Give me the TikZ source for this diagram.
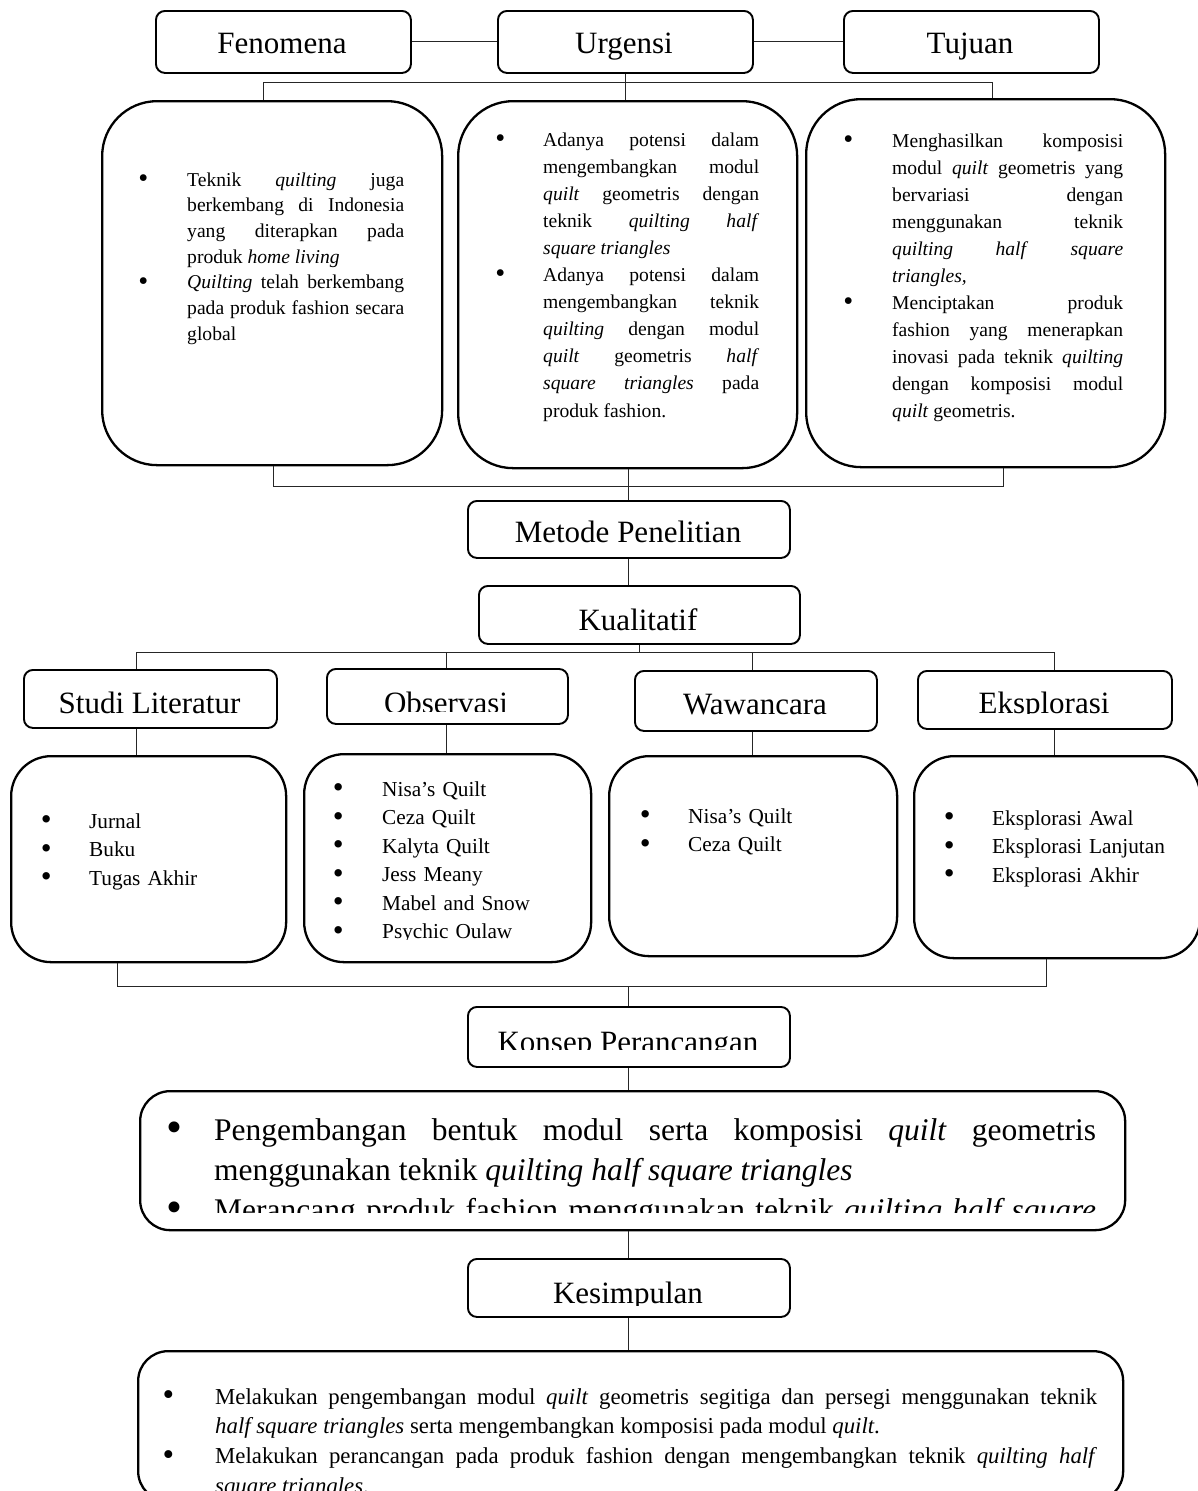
\documentclass[tikz,border=0pt]{standalone}
\usepackage{fontspec}
\setmainfont{Liberation Serif}
\usetikzlibrary{positioning}
\tolerance=10000
\hbadness=10000
\hyphenpenalty=10000
\tikzset{
  labelbox/.style={draw, line width=1.9pt, rounded corners=9pt, anchor=north west, inner sep=0pt},
  listbox/.style={draw, line width=2.3pt, anchor=north west, inner sep=0pt},
  conn/.style={line width=1pt, black!85},
  lbl/.style={anchor=base, inner sep=0pt, font=\fontsize{31pt}{36pt}\selectfont},
  txt/.style={anchor=base west, inner sep=0pt, align=justify},
  lst/.style={anchor=base west, inner sep=0pt, align=left, text width=240pt,
    font=\fontsize{21.3pt}{28.5pt}\selectfont},
}
\newcommand{\blt}[1][44pt]{\noindent\hangindent=#1\hangafter=1\makebox[#1][l]{\hspace*{-0.25em}\raisebox{-0.07em}{\scalebox{1.45}{\textbullet}}}\ignorespaces}

\begin{document}
\begin{tikzpicture}[x=1pt,y=-1pt]
  \useasboundingbox (0,0) rectangle (1198,1491);
  \clip (0,0) rectangle (1198,1491);

  % top row
  \node[labelbox, minimum width=255pt, minimum height=62pt] (fen) at (155,10) {};
  \node[labelbox, minimum width=255pt, minimum height=62pt] (urg) at (497,10) {};
  \node[labelbox, minimum width=255pt, minimum height=62pt] (tuj) at (843,10) {};
  \node[lbl] (fenT) at (282,53) {Fenomena};
  \node[lbl] (urgT) at (624,53) {Urgensi};
  \node[lbl] (tujT) at (970,53) {Tujuan};
  \draw[conn] (fen.east) -- (urg.west);
  \draw[conn] (urg.east) -- (tuj.west);

  \node[listbox, rounded corners=55pt, minimum width=340pt, minimum height=364pt] (fenC) at (101,100) {};
  \node[listbox, rounded corners=55pt, minimum width=339pt, minimum height=367pt] (urgC) at (457,100) {};
  \node[listbox, rounded corners=55pt, minimum width=359pt, minimum height=368pt] (tujC) at (805,98) {};

  \node[txt, text width=261pt, font=\fontsize{19.6pt}{25.7pt}\selectfont] (fenL) at (143,186) {%
    \blt Teknik \textit{quilting} juga\linebreak berkembang di Indonesia\linebreak yang diterapkan pada\linebreak produk \textit{home living}\par
    \blt \textit{Quilting} telah berkembang\linebreak pada produk fashion secara\linebreak global\par};
  \node[txt, text width=259pt, font=\fontsize{19.6pt}{27.1pt}\selectfont] (urgL) at (500,146) {%
    \blt[43pt] Adanya potensi dalam\linebreak mengembangkan modul\linebreak \textit{quilt} geometris dengan\linebreak teknik \textit{quilting} \textit{half}\linebreak \textit{square triangles}\par
    \blt[43pt] Adanya potensi dalam\linebreak mengembangkan teknik\linebreak \textit{quilting} dengan modul\linebreak \textit{quilt} geometris \textit{half}\linebreak \textit{square triangles} pada\linebreak produk fashion.\par};
  \node[txt, text width=275pt, font=\fontsize{19.6pt}{27pt}\selectfont] (tujL) at (848,147) {%
    \blt Menghasilkan komposisi\linebreak modul \textit{quilt} geometris yang\linebreak bervariasi dengan\linebreak menggunakan teknik\linebreak \textit{quilting} \textit{half} \textit{square}\linebreak \textit{triangles,}\par
    \blt Menciptakan produk\linebreak fashion yang menerapkan\linebreak inovasi pada teknik \textit{quilting}\linebreak dengan komposisi modul\linebreak \textit{quilt} geometris.\par};

  \coordinate (busA) at (263,82);
  \coordinate (busB) at (992,82);
  \draw[conn] (urg.south) -- (urg.south |- busA);
  \draw[conn] (busA) -- (busB);
  \draw[conn] (busA) -- (busA |- fenC.north);
  \draw[conn] (urg.south |- busA) -- (urg.south |- urgC.north);
  \draw[conn] (busB) -- (busB |- tujC.north);

  % metode
  \node[labelbox, minimum width=322pt, minimum height=57pt] (met) at (467,500) {};
  \node[lbl] (metT) at (628,542) {Metode Penelitian};
  \node[labelbox, minimum width=321pt, minimum height=58pt] (kual) at (478,585) {};
  \node[lbl] (kualT) at (638,630) {Kualitatif};

  \coordinate (busC) at (273,486);
  \coordinate (busD) at (1003,486);
  \draw[conn] (busC |- fenC.south) -- (busC) -- (busD) -- (busD |- tujC.south);
  \draw[conn] (met.north |- urgC.south) -- (met.north);
  \draw[conn] (met.south) -- (met.south |- kual.north);

  % middle row
  \node[labelbox, minimum width=253pt, minimum height=58pt] (stu) at (23,669) {};
  \node[labelbox, minimum width=241pt, minimum height=55pt] (obs) at (326,668) {};
  \node[labelbox, minimum width=242pt, minimum height=60pt] (waw) at (634,670) {};
  \node[labelbox, minimum width=254pt, minimum height=58pt] (eks) at (917,670) {};
  \node[lbl] (stuT) at (149.5,713.5) {Studi Literatur};
  \begin{scope}
    \clip (326,668) rectangle (567,711);
    \node[lbl] (obsT) at (446,713.5) {Observasi};
  \end{scope}
  \node[lbl] (wawT) at (755,714) {Wawancara};
  \begin{scope}
    \clip (917,670) rectangle (1171,713);
    \node[lbl] (eksT) at (1044,713.5) {Eksplorasi};
  \end{scope}

  \coordinate (busE) at (136,652);
  \coordinate (busF) at (1054,652);
  \coordinate (dObs) at (446,652);
  \coordinate (dWaw) at (752,652);
  \draw[conn] (kual.south) -- (kual.south |- busE);
  \draw[conn] (busE) -- (busF);
  \draw[conn] (busE) -- (busE |- stu.north);
  \draw[conn] (dObs) -- (dObs |- obs.north);
  \draw[conn] (dWaw) -- (dWaw |- waw.north);
  \draw[conn] (busF) -- (busF |- eks.north);

  \node[listbox, rounded corners=40pt, minimum width=275pt, minimum height=206pt] (stuC) at (10,755) {};
  \node[listbox, rounded corners=40pt, minimum width=287pt, minimum height=208pt] (obsC) at (303,753) {};
  \node[listbox, rounded corners=40pt, minimum width=288pt, minimum height=200pt] (wawC) at (608,755) {};
  \node[listbox, rounded corners=40pt, minimum width=286pt, minimum height=202pt] (eksC) at (913,755) {};
  \draw[conn] (busE |- stu.south) -- (busE |- stuC.north);
  \draw[conn] (dObs |- obs.south) -- (dObs |- obsC.north);
  \draw[conn] (dWaw |- waw.south) -- (dWaw |- wawC.north);
  \draw[conn] (busF |- eks.south) -- (busF |- eksC.north);

  \node[lst] (stuL) at (46,828) {\blt[43pt]Jurnal\par\blt[43pt]Buku\par\blt[43pt]Tugas Akhir\par};
  \begin{scope}
    \clip (303,753) rectangle (590,939);
    \node[lst] (obsL) at (338,796) {\blt Nisa’s Quilt\par\blt Ceza Quilt\par\blt Kalyta Quilt\par
      \blt Jess Meany\par\blt Mabel and Snow\par\blt Psychic Oulaw\par};
  \end{scope}
  \node[lst] (wawL) at (645,823) {\blt[43pt]Nisa’s Quilt\par\blt[43pt]Ceza Quilt\par};
  \node[lst] (eksL) at (949,825) {\blt[43pt]Eksplorasi Awal\par\blt[43pt]Eksplorasi Lanjutan\par\blt[43pt]Eksplorasi Akhir\par};

  % konsep
  \node[labelbox, minimum width=322pt, minimum height=60pt] (kon) at (467,1006) {};
  \begin{scope}
    \clip (467,1006) rectangle (789,1049);
    \node[lbl] (konT) at (628,1052) {Konsep Perancangan};
  \end{scope}
  \coordinate (busG) at (117,986);
  \coordinate (busH) at (1046,986);
  \draw[conn] (busG |- stuC.south) -- (busG) -- (busH) -- (busH |- eksC.south);
  \draw[conn] (kon.north |- busG) -- (kon.north);

  \node[listbox, rounded corners=30pt, minimum width=985pt, minimum height=139pt] (konC) at (139,1090) {};
  \draw[conn] (kon.south) -- (kon.south |- konC.north);
  \begin{scope}
    \clip (139,1090) rectangle (1124,1212);
    \node[txt, text width=922pt, font=\fontsize{31.5pt}{40pt}\selectfont] (konL) at (174,1140) {%
      \blt[40pt] Pengembangan bentuk modul serta komposisi \textit{quilt} geometris\linebreak menggunakan teknik \textit{quilting half square triangles}\par
      \blt[40pt] Merancang produk fashion menggunakan teknik \textit{quilting half square}\linebreak\mbox{}\par};
  \end{scope}

  % kesimpulan
  \node[labelbox, minimum width=322pt, minimum height=58pt] (kes) at (467,1258) {};
  \begin{scope}
    \clip (467,1258) rectangle (789,1305);
    \node[lbl] (kesT) at (628,1303.5) {Kesimpulan};
  \end{scope}
  \draw[conn] (kes.north |- konC.south) -- (kes.north);

  \node[listbox, rounded corners=30pt, minimum width=985pt, minimum height=150pt] (kesC) at (137,1350) {};
  \draw[conn] (kes.south) -- (kes.south |- kesC.north);
  \node[txt, text width=929pt, font=\fontsize{22.8pt}{29.7pt}\selectfont] (kesL) at (168,1404) {%
    \blt[47pt] Melakukan pengembangan modul \textit{quilt} geometris segitiga dan persegi menggunakan teknik\linebreak \textit{half square triangles} serta mengembangkan komposisi pada modul \textit{quilt}.\par
    \blt[47pt] Melakukan perancangan pada produk fashion dengan mengembangkan teknik \textit{quilting half}\linebreak \textit{square triangles}.\par};
\end{tikzpicture}
\end{document}
